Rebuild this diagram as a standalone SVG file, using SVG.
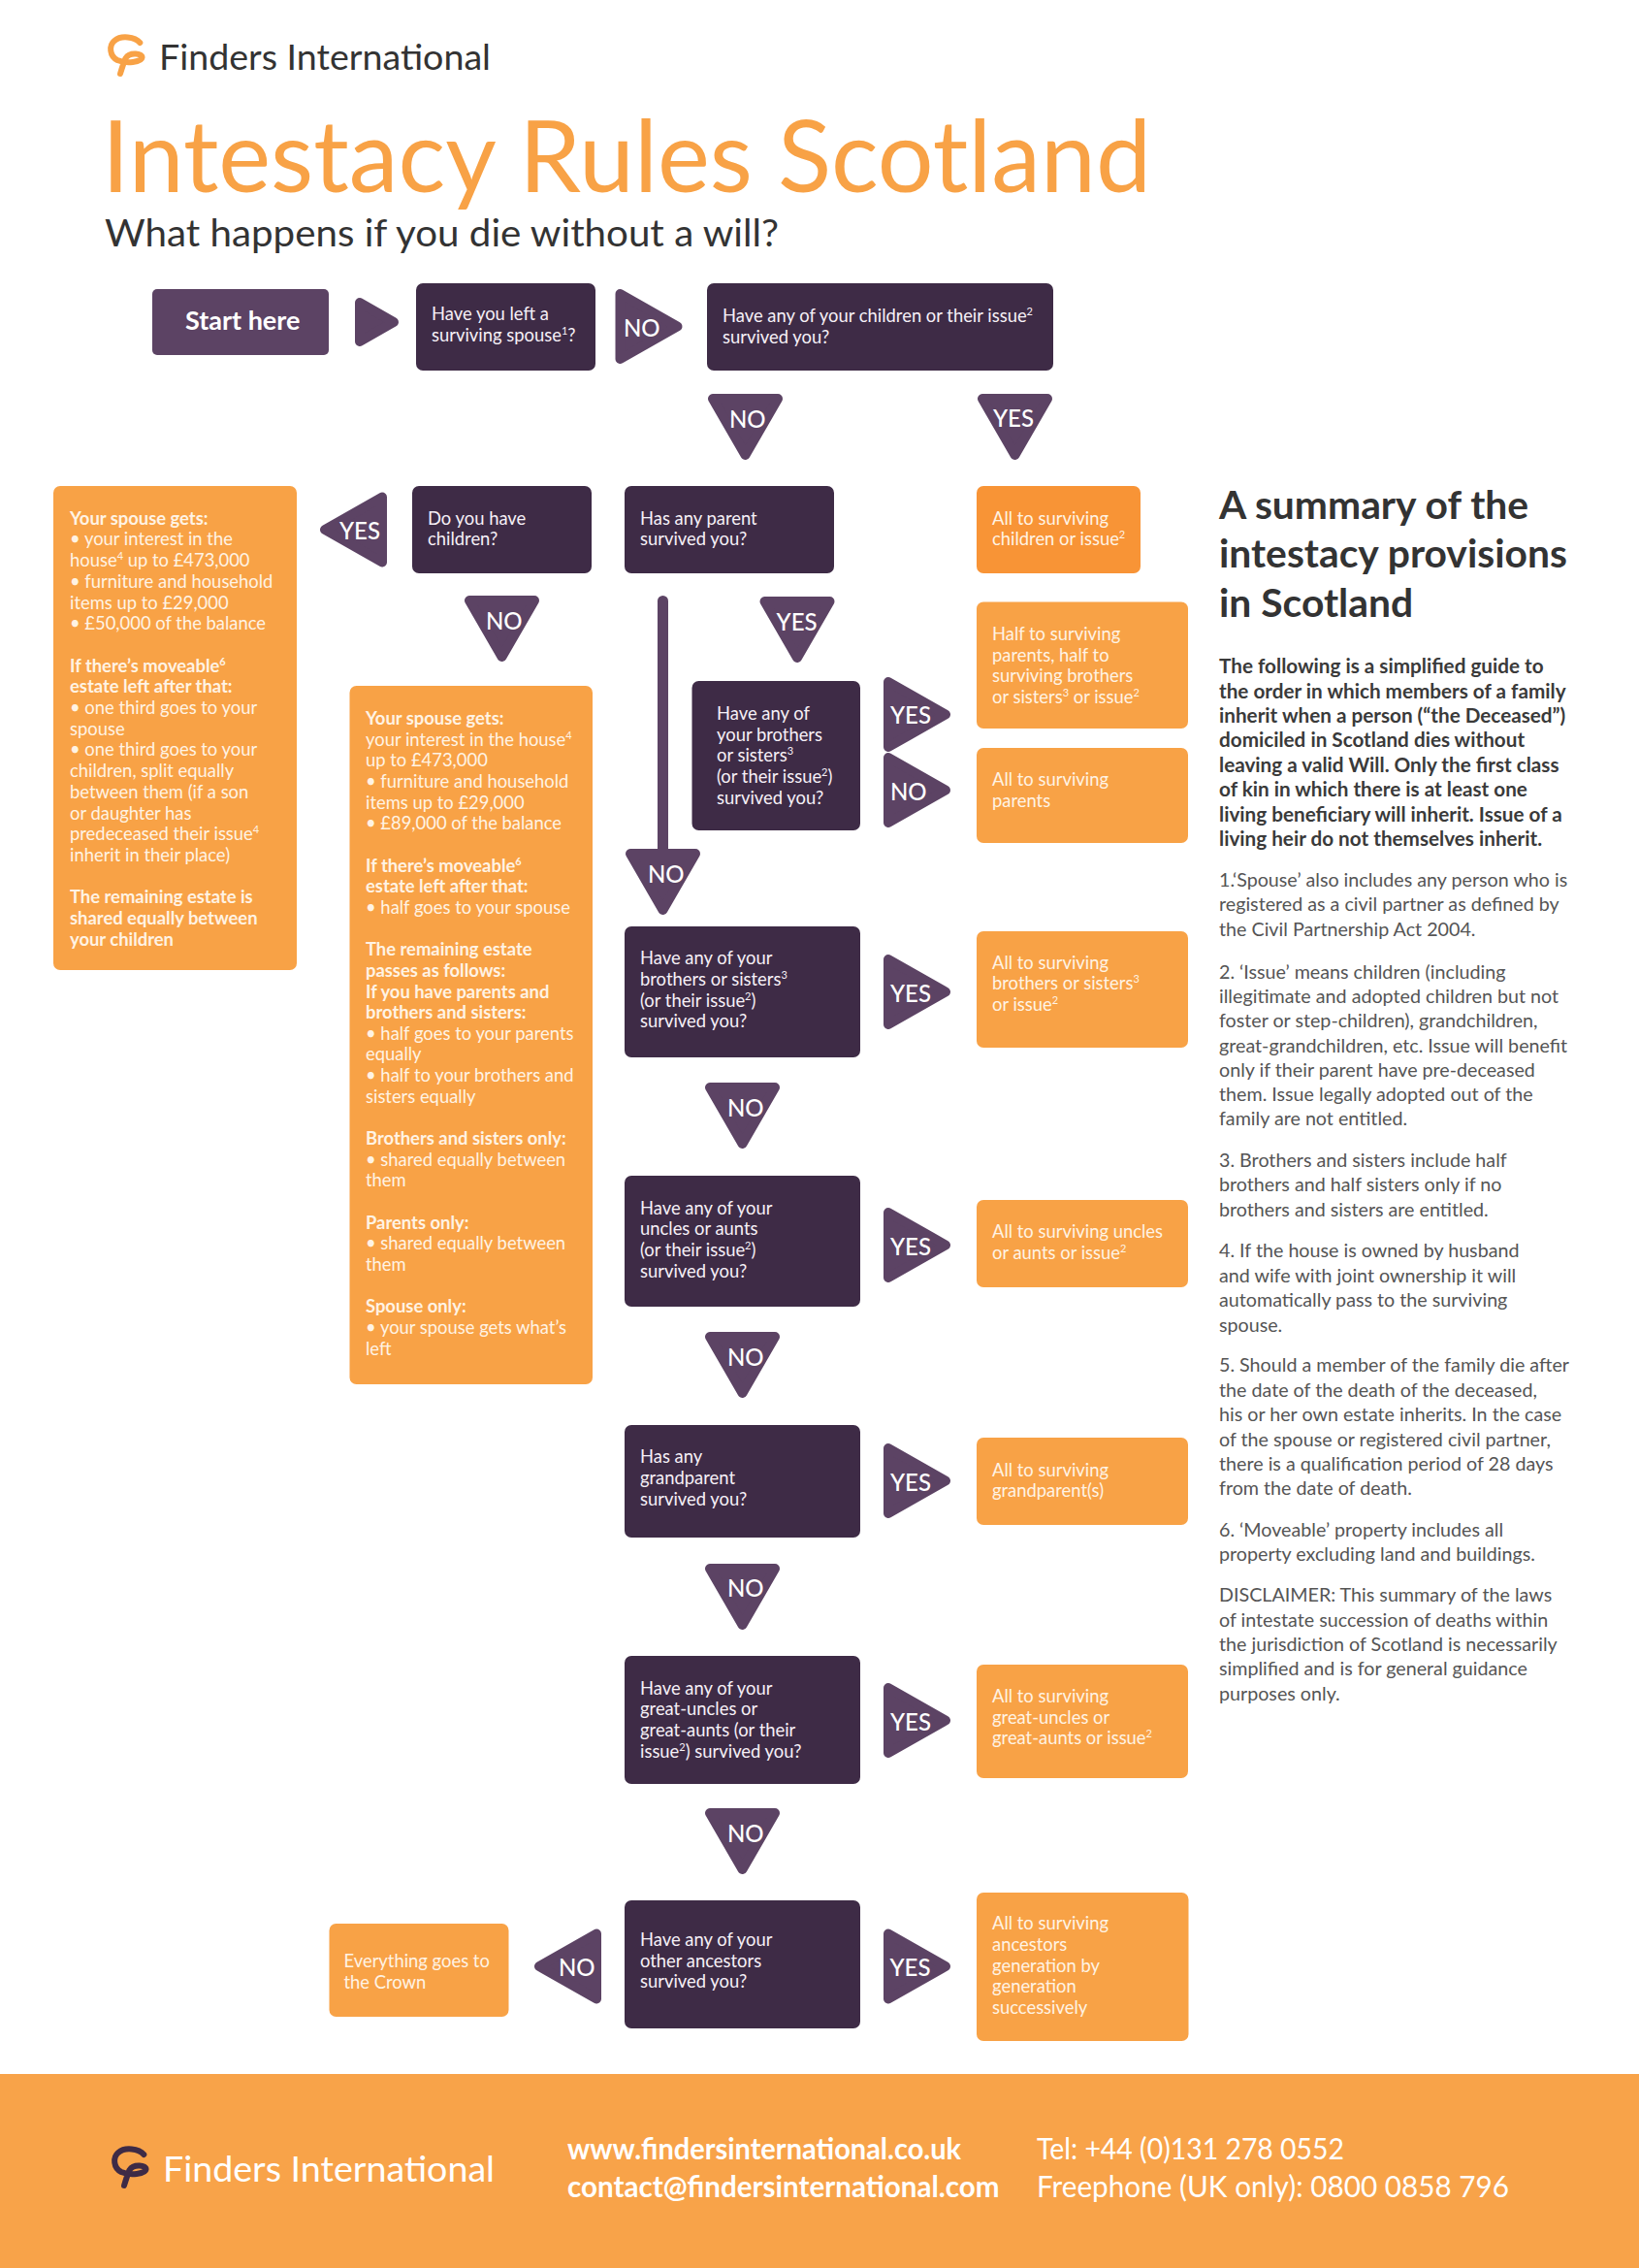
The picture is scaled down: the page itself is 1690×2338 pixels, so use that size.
<svg xmlns="http://www.w3.org/2000/svg" width="1690" height="2338" viewBox="0 0 1690 2338">
<style>
text{font-family:"Lato","Liberation Sans",sans-serif}
.dark{fill:#3E2B46}
.start{fill:#5C4364}
.org{fill:#F8A246}
.org2{fill:#F89436}
.tri{fill:#5C4364;stroke:#5C4364;stroke-width:10;stroke-linejoin:round}
.bar{fill:#5C4364}
.t{font-size:18.4px;fill:#F6F0F7}
.b{font-size:18.4px;fill:#FFF3E4;font-weight:700}
.org~.t,.org2~.t{fill:#FFF3E4}
.l{font-size:24px;fill:#fff;font-weight:500;transform:translate(-1px,0.5px)}
.h{font-size:40.8px;fill:#333;font-weight:700}
.p{font-size:20.7px;fill:#3A3A3A;font-weight:700}
.n{font-size:19.7px;fill:#555;font-weight:400}
.f{font-size:30px;fill:#fff;font-weight:400}
.fb{font-weight:700}
.sup{font-size:11px;baseline-shift:7px}
.logo{fill:none;stroke-width:6;stroke-linecap:round;stroke-linejoin:round}
</style>
<defs>
<polygon id="down" class="tri" points="5,5 72,5 38.5,63"/>
<polygon id="right" class="tri" points="5,5 64,38.5 5,72"/>
<polygon id="left" class="tri" points="64,5 5,38.5 64,72"/>
<path id="mark" d="M144.3 44C139 38 125 36 118 42C112 47 113 58 121 62C130 66 146 64 146.5 59.5C147 55 134 53 129.5 60C127 66 125.5 71 124 76"/>
</defs>
<rect width="1690" height="2338" fill="#fff"/>
<g id="header">
<use href="#mark" class="logo" stroke="#F8A246"/>
<text x="164" y="72" font-size="37" fill="#333" textLength="342" lengthAdjust="spacingAndGlyphs">Finders International</text>
<text x="105" y="198" font-size="102" fill="#F8A246" font-weight="400" textLength="1082" lengthAdjust="spacingAndGlyphs">Intestacy Rules Scotland</text>
<text x="108" y="254" font-size="38" fill="#333" textLength="695" lengthAdjust="spacingAndGlyphs">What happens if you die without a will?</text>
</g>
<g id="connectors">
<polygon class="tri" points="371,312 406,332 371,352"/>
<use href="#right" x="634.5" y="298"/><text class="l" x="644" y="346">NO</text>
<use href="#down" x="730" y="406"/><text class="l" x="753" y="440">NO</text>
<use href="#down" x="1008" y="406"/><text class="l" x="1025" y="439">YES</text>
<use href="#left" x="330" y="507.5"/><text class="l" x="351" y="555">YES</text>
<use href="#down" x="479" y="614"/><text class="l" x="502" y="648.6">NO</text>
<use href="#down" x="783.5" y="615"/><text class="l" x="801.6" y="649.5">YES</text>
<rect class="bar" x="678" y="614" width="11" height="270" rx="5.5"/>
<use href="#down" x="645" y="875"/><text class="l" x="669" y="909">NO</text>
<use href="#right" x="911" y="698"/><text class="l" x="919" y="745">YES</text>
<use href="#right" x="911" y="776"/><text class="l" x="919" y="824">NO</text>
<use href="#right" x="911" y="984"/><text class="l" x="919" y="1032">YES</text>
<use href="#down" x="727" y="1116"/><text class="l" x="751" y="1150">NO</text>
<use href="#right" x="911" y="1245"/><text class="l" x="919" y="1293">YES</text>
<use href="#down" x="727" y="1373"/><text class="l" x="751" y="1407">NO</text>
<use href="#right" x="911" y="1488"/><text class="l" x="919" y="1536">YES</text>
<use href="#down" x="727" y="1612"/><text class="l" x="751" y="1645">NO</text>
<use href="#right" x="911" y="1735"/><text class="l" x="919" y="1783">YES</text>
<use href="#down" x="727" y="1864"/><text class="l" x="751" y="1898">NO</text>
<use href="#left" x="551" y="1988.5"/><text class="l" x="577" y="2036.7">NO</text>
<use href="#right" x="911" y="1988.5"/><text class="l" x="918.5" y="2036.7">YES</text>
</g>
<g id="start"><rect class="start" x="157" y="298" width="182" height="68" rx="5"/><text x="191" y="340" font-size="27" fill="#fff" font-weight="700">Start here</text></g>
<g id="q-spouse"><rect class="dark" x="429" y="292" width="185" height="90" rx="7"/><text class="t" x="445" y="330">Have you left a</text><text class="t" x="445" y="352">surviving spouse<tspan class="sup">1</tspan>?</text></g>
<g id="q-children"><rect class="dark" x="729" y="292" width="357" height="90" rx="7"/><text class="t" x="745" y="332">Have any of your children or their issue<tspan class="sup">2</tspan></text><text class="t" x="745" y="354">survived you?</text></g>
<g id="q-havechildren"><rect class="dark" x="425" y="501" width="185" height="90" rx="7"/><text class="t" x="441" y="540.5">Do you have</text><text class="t" x="441" y="562">children?</text></g>
<g id="q-parent"><rect class="dark" x="644" y="501" width="216" height="90" rx="7"/><text class="t" x="660" y="540.5">Has any parent</text><text class="t" x="660" y="562">survived you?</text></g>
<g id="r-children"><rect class="org2" x="1007" y="501" width="169" height="90" rx="7"/><text class="t" x="1023" y="540.5">All to surviving</text><text class="t" x="1023" y="562">children or issue<tspan class="sup">2</tspan></text></g>
<g id="r-spouse-children"><rect class="org" x="55" y="501" width="251" height="499" rx="7"/>
<text class="b" x="72" y="540.7">Your spouse gets:</text>
<text class="t" x="72" y="562.4">• your interest in the</text>
<text class="t" x="72" y="584.1">house<tspan class="sup">4</tspan> up to £473,000</text>
<text class="t" x="72" y="605.8">• furniture and household</text>
<text class="t" x="72" y="627.5">items up to £29,000</text>
<text class="t" x="72" y="649.2">• £50,000 of the balance</text>
<text class="b" x="72" y="692.6">If there’s moveable<tspan class="sup">6</tspan></text>
<text class="b" x="72" y="714.3">estate left after that:</text>
<text class="t" x="72" y="736">• one third goes to your</text>
<text class="t" x="72" y="757.7">spouse</text>
<text class="t" x="72" y="779.4">• one third goes to your</text>
<text class="t" x="72" y="801.1">children, split equally</text>
<text class="t" x="72" y="822.8">between them (if a son</text>
<text class="t" x="72" y="844.5">or daughter has</text>
<text class="t" x="72" y="866.2">predeceased their issue<tspan class="sup">4</tspan></text>
<text class="t" x="72" y="887.9">inherit in their place)</text>
<text class="b" x="72" y="931.3">The remaining estate is</text>
<text class="b" x="72" y="953">shared equally between</text>
<text class="b" x="72" y="974.7">your children</text>
</g>
<g id="r-spouse-nochildren"><rect class="org" x="360.5" y="707" width="250.5" height="720" rx="7"/>
<text class="b" x="377" y="747">Your spouse gets:</text>
<text class="t" x="377" y="768.7">your interest in the house<tspan class="sup">4</tspan></text>
<text class="t" x="377" y="790.3">up to £473,000</text>
<text class="t" x="377" y="812">• furniture and household</text>
<text class="t" x="377" y="833.6">items up to £29,000</text>
<text class="t" x="377" y="855.3">• £89,000 of the balance</text>
<text class="b" x="377" y="898.6">If there’s moveable<tspan class="sup">6</tspan></text>
<text class="b" x="377" y="920.2">estate left after that:</text>
<text class="t" x="377" y="941.9">• half goes to your spouse</text>
<text class="b" x="377" y="985.2">The remaining estate</text>
<text class="b" x="377" y="1006.8">passes as follows:</text>
<text class="b" x="377" y="1028.5">If you have parents and</text>
<text class="b" x="377" y="1050.1">brothers and sisters:</text>
<text class="t" x="377" y="1071.8">• half goes to your parents</text>
<text class="t" x="377" y="1093.4">equally</text>
<text class="t" x="377" y="1115.1">• half to your brothers and</text>
<text class="t" x="377" y="1136.7">sisters equally</text>
<text class="b" x="377" y="1180">Brothers and sisters only:</text>
<text class="t" x="377" y="1201.7">• shared equally between</text>
<text class="t" x="377" y="1223.3">them</text>
<text class="b" x="377" y="1266.6">Parents only:</text>
<text class="t" x="377" y="1288.3">• shared equally between</text>
<text class="t" x="377" y="1310">them</text>
<text class="b" x="377" y="1353.3">Spouse only:</text>
<text class="t" x="377" y="1375">• your spouse gets what’s</text>
<text class="t" x="377" y="1396.7">left</text>
</g>
<g id="q-brothers1"><rect class="dark" x="713.5" y="702" width="173.5" height="154" rx="7"/>
<text class="t" x="739" y="742">Have any of</text><text class="t" x="739" y="764">your brothers</text><text class="t" x="739" y="785.4">or sisters<tspan class="sup">3</tspan></text><text class="t" x="739" y="807">(or their issue<tspan class="sup">2</tspan>)</text><text class="t" x="739" y="828.6">survived you?</text></g>
<g id="r-half"><rect class="org" x="1007" y="620.5" width="218" height="130.5" rx="7"/>
<text class="t" x="1023" y="660">Half to surviving</text><text class="t" x="1023" y="681.7">parents, half to</text><text class="t" x="1023" y="703">surviving brothers</text><text class="t" x="1023" y="725">or sisters<tspan class="sup">3</tspan> or issue<tspan class="sup">2</tspan></text></g>
<g id="r-parents"><rect class="org" x="1007" y="771" width="218" height="98" rx="7"/>
<text class="t" x="1023" y="810">All to surviving</text><text class="t" x="1023" y="831.7">parents</text></g>
<g id="q-brothers2"><rect class="dark" x="644" y="955" width="243" height="135" rx="7"/>
<text class="t" x="660" y="994">Have any of your</text><text class="t" x="660" y="1015.8">brothers or sisters<tspan class="sup">3</tspan></text><text class="t" x="660" y="1037.6">(or their issue<tspan class="sup">2</tspan>)</text><text class="t" x="660" y="1059">survived you?</text></g>
<g id="r-brothers"><rect class="org" x="1007" y="960" width="218" height="120" rx="7"/>
<text class="t" x="1023" y="998.6">All to surviving</text><text class="t" x="1023" y="1020">brothers or sisters<tspan class="sup">3</tspan></text><text class="t" x="1023" y="1042">or issue<tspan class="sup">2</tspan></text></g>
<g id="q-uncles"><rect class="dark" x="644" y="1212" width="243" height="135" rx="7"/>
<text class="t" x="660" y="1251.7">Have any of your</text><text class="t" x="660" y="1273.3">uncles or aunts</text><text class="t" x="660" y="1295">(or their issue<tspan class="sup">2</tspan>)</text><text class="t" x="660" y="1316.7">survived you?</text></g>
<g id="r-uncles"><rect class="org" x="1007" y="1237" width="218" height="90" rx="7"/>
<text class="t" x="1023" y="1276">All to surviving uncles</text><text class="t" x="1023" y="1298">or aunts or issue<tspan class="sup">2</tspan></text></g>
<g id="q-grandparent"><rect class="dark" x="644" y="1469" width="243" height="116" rx="7"/>
<text class="t" x="660" y="1508">Has any</text><text class="t" x="660" y="1530">grandparent</text><text class="t" x="660" y="1551.7">survived you?</text></g>
<g id="r-grandparent"><rect class="org" x="1007" y="1482" width="218" height="90" rx="7"/>
<text class="t" x="1023" y="1521.7">All to surviving</text><text class="t" x="1023" y="1543">grandparent(s)</text></g>
<g id="q-greats"><rect class="dark" x="644" y="1707" width="243" height="132" rx="7"/>
<text class="t" x="660" y="1746.7">Have any of your</text><text class="t" x="660" y="1768">great-uncles or</text><text class="t" x="660" y="1790">great-aunts (or their</text><text class="t" x="660" y="1811.7">issue<tspan class="sup">2</tspan>) survived you?</text></g>
<g id="r-greats"><rect class="org" x="1007" y="1716" width="218" height="117" rx="7"/>
<text class="t" x="1023" y="1755">All to surviving</text><text class="t" x="1023" y="1776.7">great-uncles or</text><text class="t" x="1023" y="1798">great-aunts or issue<tspan class="sup">2</tspan></text></g>
<g id="q-ancestors"><rect class="dark" x="644" y="1959" width="243" height="132" rx="7"/>
<text class="t" x="660" y="2006">Have any of your</text><text class="t" x="660" y="2027.7">other ancestors</text><text class="t" x="660" y="2049">survived you?</text></g>
<g id="r-crown"><rect class="org" x="339.5" y="1983" width="185" height="96" rx="7"/>
<text class="t" x="354.5" y="2028">Everything goes to</text><text class="t" x="354.5" y="2050">the Crown</text></g>
<g id="r-ancestors"><rect class="org" x="1007" y="1951" width="218.5" height="153" rx="7"/>
<text class="t" x="1023" y="1989">All to surviving</text><text class="t" x="1023" y="2011">ancestors</text><text class="t" x="1023" y="2032.7">generation by</text><text class="t" x="1023" y="2054.3">generation</text><text class="t" x="1023" y="2076">successively</text></g>
<g id="summary">
<text class="h" x="1257" y="535">A summary of the</text><text class="h" x="1257" y="585">intestacy provisions</text><text class="h" x="1257" y="636">in Scotland</text>
<text class="p" x="1257" y="694.3">The following is a simplified guide to</text>
<text class="p" x="1257" y="719.5">the order in which members of a family</text>
<text class="p" x="1257" y="745">inherit when a person (“the Deceased”)</text>
<text class="p" x="1257" y="770">domiciled in Scotland dies without</text>
<text class="p" x="1257" y="796">leaving a valid Will. Only the first class</text>
<text class="p" x="1257" y="821">of kin in which there is at least one</text>
<text class="p" x="1257" y="846.7">living beneficiary will inherit. Issue of a</text>
<text class="p" x="1257" y="871.7">living heir do not themselves inherit.</text>
<text class="n" x="1257" y="914.3">1.‘Spouse’ also includes any person who is</text>
<text class="n" x="1257" y="939.3">registered as a civil partner as defined by</text>
<text class="n" x="1257" y="965">the Civil Partnership Act 2004.</text>
<text class="n" x="1257" y="1008.5">2. ‘Issue’ means children (including</text>
<text class="n" x="1257" y="1034">illegitimate and adopted children but not</text>
<text class="n" x="1257" y="1059">foster or step-children), grandchildren,</text>
<text class="n" x="1257" y="1085">great-grandchildren, etc. Issue will benefit</text>
<text class="n" x="1257" y="1110">only if their parent have pre-deceased</text>
<text class="n" x="1257" y="1135">them. Issue legally adopted out of the</text>
<text class="n" x="1257" y="1160">family are not entitled.</text>
<text class="n" x="1257" y="1203">3. Brothers and sisters include half</text>
<text class="n" x="1257" y="1228">brothers and half sisters only if no</text>
<text class="n" x="1257" y="1254">brothers and sisters are entitled.</text>
<text class="n" x="1257" y="1296">4. If the house is owned by husband</text>
<text class="n" x="1257" y="1322">and wife with joint ownership it will</text>
<text class="n" x="1257" y="1347">automatically pass to the surviving</text>
<text class="n" x="1257" y="1372.6">spouse.</text>
<text class="n" x="1257" y="1414.4">5. Should a member of the family die after</text>
<text class="n" x="1257" y="1440">the date of the death of the deceased,</text>
<text class="n" x="1257" y="1465">his or her own estate inherits. In the case</text>
<text class="n" x="1257" y="1491">of the spouse or registered civil partner,</text>
<text class="n" x="1257" y="1516.4">there is a qualification period of 28 days</text>
<text class="n" x="1257" y="1541">from the date of death.</text>
<text class="n" x="1257" y="1583.6">6. ‘Moveable’ property includes all</text>
<text class="n" x="1257" y="1609">property excluding land and buildings.</text>
<text class="n" x="1257" y="1650.7">DISCLAIMER: This summary of the laws</text>
<text class="n" x="1257" y="1676.6">of intestate succession of deaths within</text>
<text class="n" x="1257" y="1701.5">the jurisdiction of Scotland is necessarily</text>
<text class="n" x="1257" y="1727.4">simplified and is for general guidance</text>
<text class="n" x="1257" y="1752.7">purposes only.</text>
</g>
<g id="footer">
<rect x="0" y="2138" width="1690" height="200" fill="#F8A349"/>
<use href="#mark" class="logo" stroke="#3E2B46" x="4" y="2177"/>
<text x="168" y="2249" font-size="37" fill="#fff" textLength="342" lengthAdjust="spacingAndGlyphs">Finders International</text>
<text class="f fb" x="585" y="2226" textLength="406" lengthAdjust="spacingAndGlyphs">www.findersinternational.co.uk</text>
<text class="f fb" x="585" y="2265" textLength="445.5" lengthAdjust="spacingAndGlyphs">contact@findersinternational.com</text>
<text class="f" x="1069" y="2226" textLength="317" lengthAdjust="spacingAndGlyphs">Tel: +44 (0)131 278 0552</text>
<text class="f" x="1069" y="2265" textLength="487" lengthAdjust="spacingAndGlyphs">Freephone (UK only): 0800 0858 796</text>
</g>
</svg>
